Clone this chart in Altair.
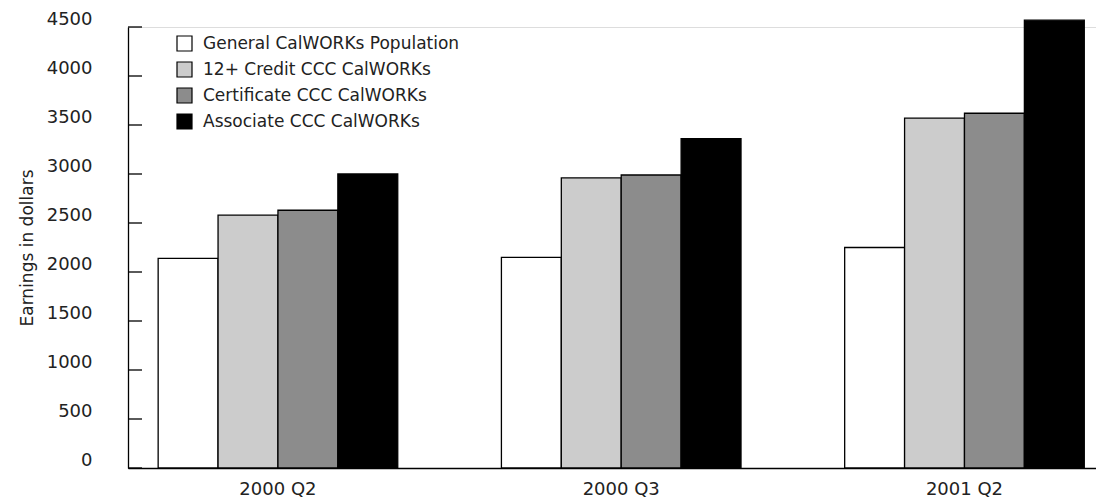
import altair as alt
import pandas as pd

quarters = ["2000 Q2", "2000 Q3", "2001 Q2"]
categories = [
    "General CalWORKs Population",
    "12+ Credit CCC CalWORKs",
    "Certificate CCC CalWORKs",
    "Associate CCC CalWORKs",
]
general = [2140, 2150, 2250]
credit12 = [2580, 2960, 3570]
certificate = [2630, 2990, 3620]
associate = [3000, 3360, 4570]
colors = ["#ffffff", "#cccccc", "#8c8c8c", "#000000"]
y_ticks = [0, 500, 1000, 1500, 2000, 2500, 3000, 3500, 4000, 4500]

rows = []
for series_name, vals in zip(categories, [general, credit12, certificate, associate]):
    for q, v in zip(quarters, vals):
        rows.append({"quarter": q, "series": series_name, "earnings": v})
df = pd.DataFrame(rows)
ticks_df = pd.DataFrame({"earnings": y_ticks})

FONT = "DejaVu Sans"
TXT = "#222222"

bars = alt.Chart(df).mark_bar(stroke="black", strokeWidth=1.3).encode(
    x=alt.X(
        "quarter:N",
        sort=quarters,
        title=None,
        scale=alt.Scale(paddingInner=0.302, paddingOuter=0.061, align=0.72),
        axis=alt.Axis(
            labelAngle=0, ticks=False, tickSize=0, labelPadding=12,
            labelFontSize=18, labelFont=FONT, labelColor=TXT,
            domainColor="black", domainWidth=1.3,
        ),
    ),
    xOffset=alt.XOffset(
        "series:N", sort=categories, scale=alt.Scale(paddingInner=0, paddingOuter=0)
    ),
    y=alt.Y(
        "earnings:Q",
        title="Earnings in dollars",
        scale=alt.Scale(domain=[0, 4500], nice=False),
        axis=alt.Axis(
            values=y_ticks, format="d", ticks=False, tickSize=0, grid=False,
            labelPadding=36, labelFontSize=18, labelFont=FONT, labelColor=TXT,
            labelOffset=-8,
            titleFont=FONT, titleFontSize=17, titleFontWeight="normal",
            titleColor=TXT, titlePadding=10,
            domainColor="black", domainWidth=1.3,
        ),
    ),
    fill=alt.Fill(
        "series:N",
        sort=categories,
        scale=alt.Scale(domain=categories, range=colors),
        legend=alt.Legend(
            title=None, orient="none", legendX=48, legendY=8,
            symbolType="square", symbolSize=225, symbolStrokeColor="black",
            symbolStrokeWidth=1.2, labelFontSize=17, labelFont=FONT,
            labelColor=TXT, labelOffset=10, rowPadding=5,
            labelLimit=400,
        ),
    ),
)

inner_ticks = alt.Chart(ticks_df).mark_rule(color="black", strokeWidth=1.3).encode(
    y="earnings:Q",
    x=alt.value(0),
    x2=alt.value(14),
)

chart = (
    alt.layer(bars, inner_ticks)
    .properties(
        width=968,
        height=441,
        autosize=alt.AutoSizeParams(type="none"),
        padding={"left": 120, "top": 19, "right": 0, "bottom": 30},
    )
    .configure_view(stroke=None)
    .configure(background="white")
)

chart.save("out.html", embed_options={"renderer": "svg", "actions": False})
